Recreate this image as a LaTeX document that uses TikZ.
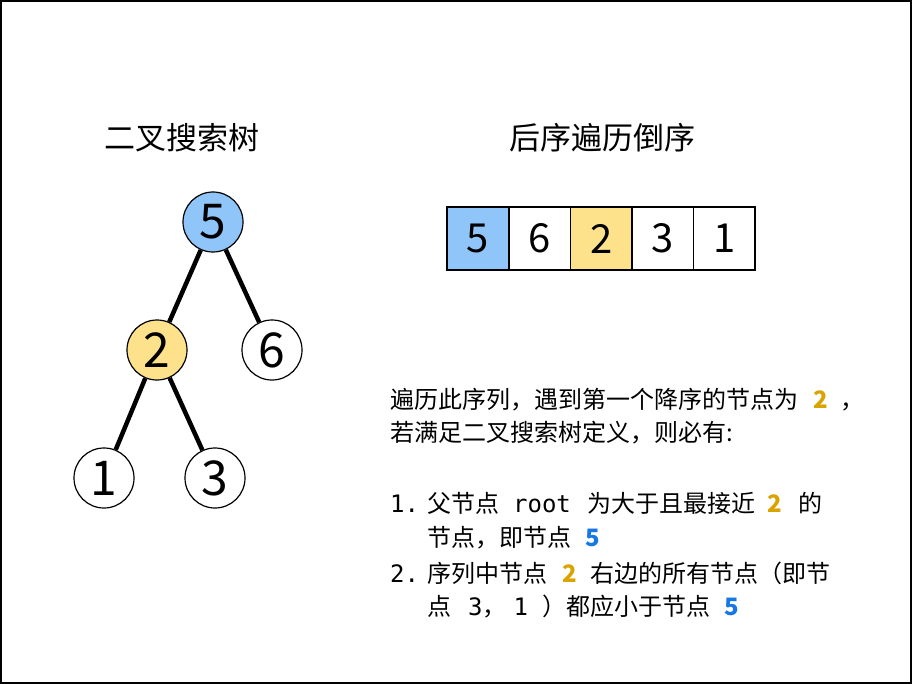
\documentclass[tikz,border=0pt]{standalone}
\usepackage{fontspec}
\setmainfont{Noto Sans CJK SC}
\newfontfamily\monof{DejaVu Sans Mono}
\definecolor{nodeblue}{HTML}{90C5FA}
\definecolor{nodeyellow}{HTML}{FDE28B}
\definecolor{txtgold}{HTML}{D9A300}
\definecolor{txtblue}{HTML}{1677E5}
\tikzset{
  treenode/.style={circle, draw, line width=1.2pt, minimum size=60pt, inner sep=0pt, font=\fontsize{48}{48}\selectfont},
  cell/.style={rectangle, draw, line width=1.5pt, minimum width=61.6pt, minimum height=63pt, inner sep=0pt, font=\fontsize{40}{40}\selectfont},
  edge/.style={line width=4.5pt},
  title/.style={font=\fontsize{31}{31}\selectfont},
  body/.style={anchor=west, inner sep=0pt, font=\fontsize{24}{24}\selectfont}
}
\newcommand{\gtwo}{{\bfseries\color{txtgold}2}}
\newcommand{\bfive}{{\bfseries\color{txtblue}5}}
\begin{document}
\begin{tikzpicture}[x=1pt,y=-1pt]
\useasboundingbox (0,0) rectangle (912,684);
\draw[line width=2pt] (1,1) rectangle (911,683);
% titles
\node[title] (t1) at (182,138) {二叉搜索树};
\node[title] (t2) at (602,138) {后序遍历倒序};
% tree
\node[treenode, fill=nodeblue] (n5) at (213,222) {5};
\node[treenode, fill=nodeyellow] (n2) at (157,350) {2};
\node[treenode, fill=white] (n6) at (272,350) {6};
\node[treenode, fill=white] (n1) at (104,478) {1};
\node[treenode, fill=white] (n3) at (215,478) {3};
\draw[edge] (n5) -- (n2);
\draw[edge] (n5) -- (n6);
\draw[edge] (n2) -- (n1);
\draw[edge] (n2) -- (n3);
% array
\node[cell, fill=nodeblue] (c1) at (478,238.5) {5};
\node[cell, fill=white] (c2) at (539.6,238.5) {6};
\node[cell, fill=nodeyellow] (c3) at (601.2,238.5) {2};
\node[cell, fill=white] (c4) at (662.8,238.5) {3};
\node[cell, fill=white] (c5) at (724.4,238.5) {1};
% text
\node[body] (l1) at (390,400) {遍历此序列，遇到第一个降序的节点为\hspace{15pt}\gtwo\hspace{13pt}，};
\node[body] (l2) at (390,433) {若满足二叉搜索树定义，则必有:};
\node[body] (l3) at (390,503) {{\monof 1.}\hspace{8pt}父节点\hspace{14pt}{\monof root}\hspace{17pt}为大于且最接近\hspace{12pt}\gtwo\hspace{16pt}的};
\node[body] (l4) at (427,538) {节点，即节点\hspace{14pt}\bfive};
\node[body] (l5) at (390,573) {{\monof 2.}\hspace{8pt}序列中节点\hspace{15pt}\gtwo\hspace{14pt}右边的所有节点（即节};
\node[body] (l6) at (427,607) {点\hspace{17pt}{\monof 3}，\hspace{7pt}{\monof 1}\hspace{14pt}）都应小于节点\hspace{14pt}\bfive};
\end{tikzpicture}
\end{document}
